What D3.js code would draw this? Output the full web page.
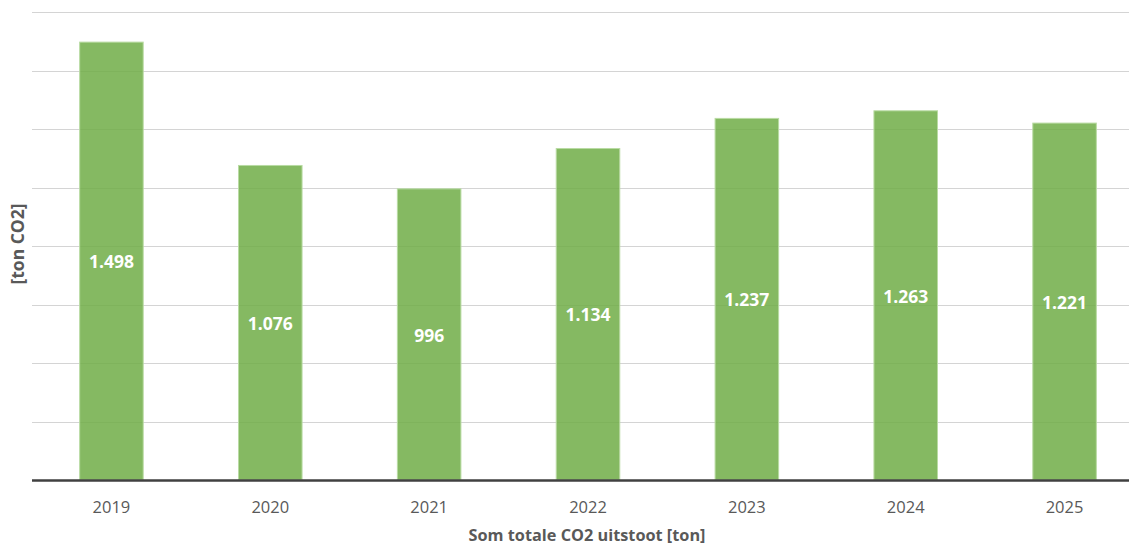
<!DOCTYPE html>
<html>
<head>
<meta charset="utf-8">
<script src="https://cdn.jsdelivr.net/npm/d3@7"></script>
<style>
  body { margin: 0; background: #fff; }
  svg { display: block; font-family: "Open Sans", "Noto Sans", sans-serif; }
</style>
</head>
<body>
<svg id="chart" width="1129" height="545"></svg>
<script>
const years = ["2019", "2020", "2021", "2022", "2023", "2024", "2025"];
const emissions = [1498, 1076, 996, 1134, 1237, 1263, 1221];
const gridTicks = [200, 400, 600, 800, 1000, 1200, 1400, 1600];

const svg = d3.select("#chart");
const plotLeft = 32, plotRight = 1144, plotTop = 12.3, plotBottom = 480;

const x = d3.scaleBand().domain(years).range([plotLeft, plotRight]).paddingInner(0.6).paddingOuter(0.3);
const y = d3.scaleLinear().domain([0, 1600]).range([plotBottom, plotTop]);

// gridlines
svg.append("g")
  .selectAll("line")
  .data(gridTicks)
  .join("line")
  .attr("x1", plotLeft).attr("x2", 1129)
  .attr("y1", d => Math.round(y(d)) + 0.5).attr("y2", d => Math.round(y(d)) + 0.5)
  .attr("stroke", "#d4d4d4").attr("stroke-width", 1);

// bars
svg.append("g")
  .selectAll("rect")
  .data(years)
  .join("rect")
  .attr("x", d => x(d))
  .attr("width", x.bandwidth())
  .attr("y", (d, i) => y(emissions[i]))
  .attr("height", (d, i) => plotBottom - y(emissions[i]))
  .attr("fill", "#70ad47").attr("fill-opacity", 0.85)
  .attr("stroke", "#b9dba3").attr("stroke-width", 1);

// baseline
svg.append("line")
  .attr("x1", plotLeft).attr("x2", 1129)
  .attr("y1", plotBottom + 0.5).attr("y2", plotBottom + 0.5)
  .attr("stroke", "#404040").attr("stroke-width", 2.5);

// value labels
const fmt = v => v >= 1000 ? Math.floor(v / 1000) + "." + String(v % 1000).padStart(3, "0") : String(v);
svg.append("g")
  .selectAll("text")
  .data(years)
  .join("text")
  .attr("x", d => x(d) + x.bandwidth() / 2)
  .attr("y", (d, i) => (y(emissions[i]) + plotBottom) / 2 + 1)
  .attr("dy", "0.35em")
  .attr("text-anchor", "middle")
  .attr("fill", "#fff").attr("font-weight", "bold").attr("font-size", 17.5)
  .text((d, i) => fmt(emissions[i]));

// x tick labels
svg.append("g")
  .selectAll("text")
  .data(years)
  .join("text")
  .attr("x", d => x(d) + x.bandwidth() / 2)
  .attr("y", 507)
  .attr("dy", "0.35em")
  .attr("text-anchor", "middle")
  .attr("fill", "#595959").attr("font-size", 16.5)
  .text(d => d);

// axis titles
svg.append("text")
  .attr("x", (plotLeft + plotRight) / 2 - 1).attr("y", 535)
  .attr("dy", "0.35em")
  .attr("text-anchor", "middle")
  .attr("fill", "#595959").attr("font-weight", "bold").attr("font-size", 16.3)
  .text("Som totale CO2 uitstoot [ton]");

svg.append("text")
  .attr("transform", "translate(18,244) rotate(-90)")
  .attr("dy", "0.35em")
  .attr("text-anchor", "middle")
  .attr("fill", "#595959").attr("font-weight", "bold").attr("font-size", 17.5)
  .text("[ton CO2]");
</script>
</body>
</html>
